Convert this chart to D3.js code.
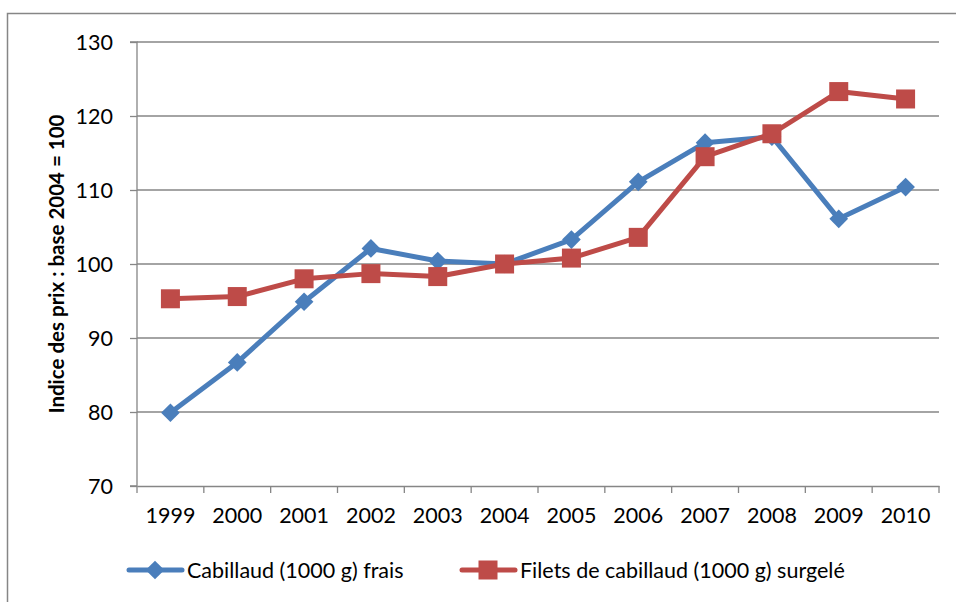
<!DOCTYPE html>
<html><head><meta charset="utf-8">
<script src="https://cdn.jsdelivr.net/npm/d3@7"></script>
<style>body{margin:0;background:#fff}svg{display:block}text{font-family:Lato,"Open Sans",sans-serif;fill:#000}</style>
</head><body>
<svg id="c" width="956" height="602"></svg>
<script>
const years = ["1999","2000","2001","2002","2003","2004","2005","2006","2007","2008","2009","2010"];
const cabillaudFrais = [79.9,86.7,94.9,102.1,100.4,100.0,103.3,111.1,116.4,117.2,106.1,110.4];
const filetsSurgele = [95.3,95.6,98.0,98.7,98.3,100.0,100.8,103.6,114.5,117.6,123.3,122.3];
const yTicks = [70,80,90,100,110,120,130];
const seriesNames = ["Cabillaud (1000 g) frais","Filets de cabillaud (1000 g) surgelé"];
const yTitle = "Indice des prix : base 2004 = 100";

const svg = d3.select("#c");
const L=137,R=939,T=42,B=486;
const grid="#868686", blue="#4A7EBB", red="#BE4B48";
const fs=21.5;

svg.append("path").attr("d","M7.5,602V13.5H956").attr("fill","none").attr("stroke",grid).attr("stroke-width",1.5);

const x = d3.scaleBand().domain(years).range([L,R]);
const y = d3.scaleLinear().domain([70,130]).range([B,T]);

// gridlines
svg.append("g").selectAll("line").data(yTicks.slice(1)).join("line")
  .attr("x1",L).attr("x2",R).attr("y1",d=>y(d)).attr("y2",d=>y(d))
  .attr("stroke",grid).attr("stroke-width",1.3);

// y axis
const ya = svg.append("g").attr("transform",`translate(${L},0)`)
  .call(d3.axisLeft(y).tickValues(yTicks).tickSize(7).tickPadding(17));
ya.select(".domain").attr("stroke",grid).attr("stroke-width",1.3).attr("d",`M-7,${B}H0V${T}H-7`);
ya.selectAll(".tick line").attr("stroke",grid).attr("stroke-width",1.3);
ya.selectAll(".tick text").attr("font-size",fs).attr("font-family","Lato").attr("dy","0.35em");

// x axis
const xa = svg.append("g").attr("transform",`translate(0,${B})`)
  .call(d3.axisBottom(x).tickSize(0).tickPadding(22));
xa.select(".domain").attr("stroke",grid).attr("stroke-width",1.3);
xa.selectAll(".tick text").attr("font-size",fs).attr("font-family","Lato");
const bounds = years.map(d=>x(d)).concat([R]);
svg.append("g").selectAll("line").data(bounds).join("line")
  .attr("x1",d=>d).attr("x2",d=>d).attr("y1",B).attr("y2",B+7)
  .attr("stroke",grid).attr("stroke-width",1.3);

// y title
svg.append("text").attr("transform","translate(64,264) rotate(-90)")
  .attr("text-anchor","middle").attr("font-size",20.5).attr("font-weight","bold").text(yTitle);

const cx = d=>x(d)+x.bandwidth()/2;
const line = d3.line().x((d,i)=>cx(years[i])).y(d=>y(d));

const diamond = d3.symbol().type(d3.symbolSquare).size(175);
function drawDiamond(g,px,py){
  g.append("path").attr("d",diamond()).attr("transform",`translate(${px},${py}) rotate(45)`).attr("fill",blue);
}
function drawSquare(g,px,py){
  g.append("rect").attr("x",px-9.5).attr("y",py-9.5).attr("width",19).attr("height",19).attr("fill",red);
}

const g1 = svg.append("g");
g1.append("path").attr("d",line(cabillaudFrais)).attr("fill","none").attr("stroke",blue).attr("stroke-width",5).attr("stroke-linejoin","round");
cabillaudFrais.forEach((v,i)=>drawDiamond(g1,cx(years[i]),y(v)));

const g2 = svg.append("g");
g2.append("path").attr("d",line(filetsSurgele)).attr("fill","none").attr("stroke",red).attr("stroke-width",5).attr("stroke-linejoin","round");
filetsSurgele.forEach((v,i)=>drawSquare(g2,cx(years[i]),y(v)));

// legend
const ly=570;
const lg=svg.append("g");
lg.append("line").attr("x1",129).attr("x2",182).attr("y1",ly).attr("y2",ly).attr("stroke",blue).attr("stroke-width",5).attr("stroke-linecap","round");
drawDiamond(lg,155,ly);
lg.append("text").attr("x",187).attr("y",ly).attr("dy","0.35em").attr("font-size",fs).text(seriesNames[0]);
lg.append("line").attr("x1",462).attr("x2",515).attr("y1",ly).attr("y2",ly).attr("stroke",red).attr("stroke-width",5).attr("stroke-linecap","round");
drawSquare(lg,488,ly);
lg.append("text").attr("x",520).attr("y",ly).attr("dy","0.35em").attr("font-size",fs).text(seriesNames[1]);
</script>
</body></html>
